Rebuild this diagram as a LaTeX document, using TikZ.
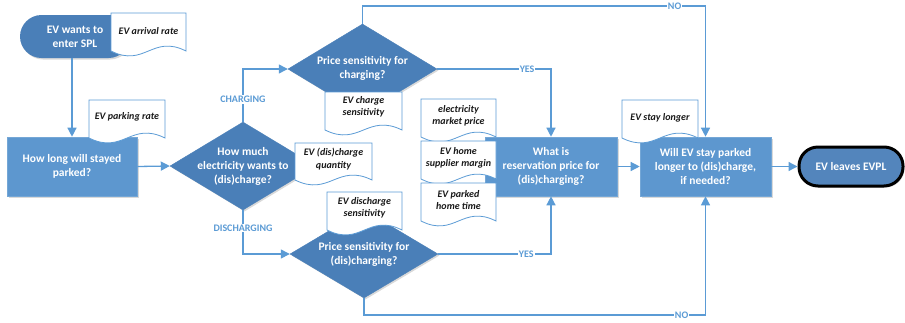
\documentclass[tikz,border=0pt]{standalone}
\usepackage{fontspec}
\setmainfont{Carlito}
\usetikzlibrary{arrows.meta,shapes.geometric,shadows}
\definecolor{rectblue}{HTML}{5D97CF}
\definecolor{diablue}{HTML}{4A7FB8}
\definecolor{lineblue}{HTML}{5B9BD5}
\definecolor{docedge}{HTML}{5B9BD5}
\definecolor{lblblue}{HTML}{5B9BD5}
\tikzset{
 shad/.style={drop shadow={shadow xshift=1.5pt, shadow yshift=-1.5pt, opacity=0.3, fill=gray}},
 proc/.style={rectangle, fill=rectblue, draw=rectblue!85!white, line width=0.6pt, inner sep=0pt, shad, minimum height=59pt},
 dia/.style={diamond, fill=diablue, draw=diablue, inner sep=0pt, shad},
 wtxt/.style={text=white, font=\fontsize{11.5}{14}\selectfont\bfseries, align=center, inner sep=0pt},
 docline/.style={draw=docedge, fill=white, line width=0.8pt},
 doctxt/.style={font=\fontsize{10}{12.5}\selectfont\bfseries\itshape, align=center, inner sep=0pt, text=black!90},
 conn/.style={draw=lineblue, line width=1.3pt, -{Triangle[length=9pt,width=9pt]}},
 lbl/.style={fill=white, text=lblblue, font=\fontsize{10}{12}\selectfont\bfseries, inner sep=1pt},
}
\newcommand{\mydoc}[7]{%
 \pgfmathsetmacro{\dxa}{#2+0.55*(#4-#2)}%
 \pgfmathsetmacro{\dxb}{#2+0.45*(#4-#2)}%
 \pgfmathsetmacro{\dya}{#5-17}%
 \pgfmathsetmacro{\dyb}{#5+17}%
 \draw[docline] (#2,#3) -- (#4,#3) -- (#4,#5) .. controls (\dxa,\dya) and (\dxb,\dyb) .. (#2,#5) -- cycle;
 \node[doctxt] (#1) at ({(#2+#4)/2},#6) {#7};
}
\begin{document}
\begin{tikzpicture}[x=1pt,y=-1pt]
\useasboundingbox (0,0) rectangle (905,322);
% shapes
\node[fill=diablue, rounded corners=21.5pt, minimum width=110pt, minimum height=43pt, inner sep=0pt, shad, wtxt] (start) at (75,36.5) {EV wants to\\enter SPL};
\node[proc, wtxt, minimum width=130pt] (rect1) at (72,166.5) {How long will stayed\\parked?};
\node[dia, minimum width=146pt, minimum height=88pt] (d1) at (243,166) {};
\node[wtxt] (d1t) at (243,166) {How much\\electricity wants to\\(dis)charge?};
\node[dia, minimum width=149pt, minimum height=90pt] (d2) at (362.5,69) {};
\node[wtxt] (d2t) at (362.5,68) {Price sensitivity for\\charging?};
\node[dia, minimum width=148pt, minimum height=88pt] (d3) at (364,254) {};
\node[wtxt] (d3t) at (364,254) {Price sensitivity for\\(dis)charging?};
\node[proc, wtxt, minimum width=132pt] (rect2) at (551,166.5) {What is\\reservation price for\\(dis)charging?};
\node[proc, wtxt, minimum width=131pt] (rect3) at (705.5,166.5) {Will EV stay parked\\longer to (dis)charge,\\if needed?};
\node[fill=diablue!95!white, draw=black, line width=3pt, rounded corners=19pt, minimum width=104pt, minimum height=39pt, inner sep=0pt, shad, wtxt] (endt) at (851,166.5) {EV leaves EVPL};
% documents
\mydoc{darr}{111}{13}{186}{51}{31}{EV arrival rate}
\mydoc{dpark}{89}{100}{165}{138}{117}{EV parking rate}
\mydoc{dqty}{295}{143}{372}{180}{159}{EV (dis)charge\\quantity}
\mydoc{dcs}{325}{92}{402}{130}{107}{EV charge\\sensitivity}
\mydoc{dds}{327}{192}{402}{230}{208}{EV discharge\\sensitivity}
\mydoc{dmp}{421}{99}{496}{137}{116}{electricity\\market price}
\mydoc{dhs}{421}{141}{496}{179}{158}{EV home\\supplier margin}
\mydoc{dht}{421}{183}{496}{221}{200}{EV parked\\home time}
\mydoc{dsl}{622}{100}{698}{138}{118}{EV stay longer}
% connectors
\coordinate (topy) at (0,6);
\coordinate (boty) at (0,315);
\draw[conn] (rect1.north |- start.south) -- (rect1.north);
\draw[conn] (rect1.east) -- (d1.west);
\draw[conn] (d1.north) |- node[lbl,pos=0.21] (lch) {CHARGING} (d2.west);
\draw[conn] (d1.south) |- node[lbl,pos=0.205] (ldis) {DISCHARGING} (d3.west);
\draw[conn] (d2.east) -| node[lbl,pos=0.395] (ly1) {YES} (rect2.north);
\draw[conn] (d3.east) -| node[lbl,pos=0.39] (ly2) {YES} (rect2.south);
\draw[conn] (d2.north) -- (d2.north |- topy) -- node[lbl,pos=0.91] (ln1) {NO} (rect3.north |- topy) -- (rect3.north);
\draw[conn] (d3.south) -- (d3.south |- boty) -- node[lbl,pos=0.93] (ln2) {NO} (rect3.south |- boty) -- (rect3.south);
\draw[conn] (rect2.east) -- (rect3.west);
\draw[conn] (rect3.east) -- (endt.west);
\end{tikzpicture}
\end{document}
